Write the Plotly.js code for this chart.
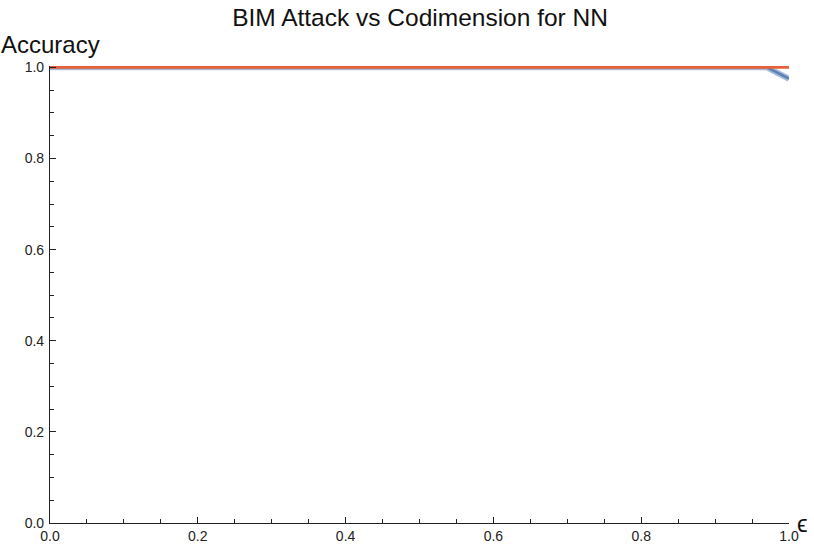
<!DOCTYPE html>
<html>
<head>
<meta charset="utf-8">
<script src="https://cdn.plot.ly/plotly-3.0.1.min.js"></script>
<style>
  html, body { margin: 0; padding: 0; background: #fff; }
  #chart { width: 814px; height: 547px; }
</style>
</head>
<body>
<div id="chart"></div>
<script>
// epsilon values and accuracy per series
const epsBlue = [0, 0.25, 0.5, 0.75, 0.97, 1.0];
const accBlue = [1, 1, 1, 1, 1, 0.975];
const epsOrange = [0, 0.25, 0.5, 0.75, 1.0];
const accOrange = [1, 1, 1, 1, 1];

const FONT = 'Liberation Sans, Arial, sans-serif';

const traces = [
  { x: epsBlue, y: accBlue, type: 'scatter', mode: 'lines',
    line: { color: 'rgba(94,129,181,0.55)', width: 6 }, showlegend: false, hoverinfo: 'skip' },
  { x: epsBlue, y: accBlue, type: 'scatter', mode: 'lines',
    line: { color: '#5e81b5', width: 2.5 }, showlegend: false },
  { x: epsOrange, y: accOrange, type: 'scatter', mode: 'lines',
    line: { color: '#e8613a', width: 3 }, showlegend: false }
];

const axisCommon = {
  showgrid: false, zeroline: false, showline: true,
  linecolor: '#222', linewidth: 1.2,
  ticks: 'inside', ticklen: 6, tickcolor: '#222', tickwidth: 1,
  tickfont: { family: FONT, size: 14, color: '#222' },
  tickformat: '.1f', dtick: 0.2, tick0: 0,
  minor: { ticks: 'inside', ticklen: 4, dtick: 0.05, tickcolor: '#222', tickwidth: 1 }
};

const layout = {
  width: 814, height: 547,
  paper_bgcolor: '#fff', plot_bgcolor: '#fff',
  margin: { l: 50, r: 25, t: 66, b: 24 },
  font: { family: FONT, color: '#222' },
  title: { text: 'BIM Attack vs Codimension for NN', font: { family: FONT, size: 24.5, color: '#111' },
           x: 0.516, xanchor: 'center', y: 0.969, yanchor: 'middle' },
  xaxis: { ...axisCommon, range: [0, 1], ticklabelstandoff: 0 },
  yaxis: { ...axisCommon, range: [0, 1.003], ticklabelstandoff: 2 },
  annotations: [
    { text: 'Accuracy', xref: 'paper', yref: 'paper', x: -0.069, y: 1.046, xanchor: 'left', yanchor: 'middle',
      showarrow: false, font: { family: FONT, size: 24, color: '#111' } },
    { text: 'ϵ', xref: 'paper', yref: 'paper', x: 1.008, y: 0.0, xanchor: 'left', yanchor: 'middle',
      showarrow: false, font: { family: FONT, size: 24, color: '#111' } }
  ]
};

Plotly.newPlot('chart', traces, layout, { displayModeBar: false, responsive: false });
</script>
</body>
</html>
